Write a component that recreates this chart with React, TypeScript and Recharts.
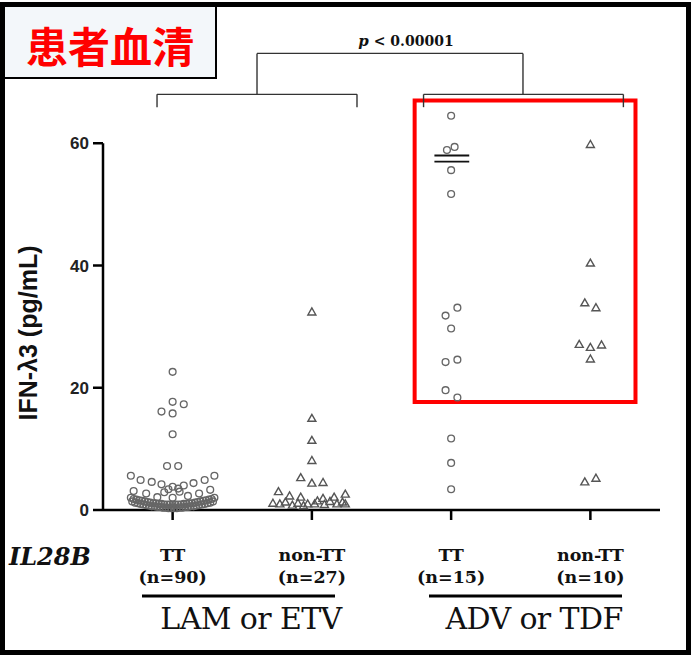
import React from 'react';
import { ScatterChart, Scatter, XAxis, YAxis, ReferenceLine, ReferenceArea } from 'recharts';

// IFN-λ3 serum levels (pg/mL) by group; jitter = horizontal spread in category units
const groups = [1, 2, 3, 4];
const tickTop = ['TT', 'non-TT', 'TT', 'non-TT'];
const tickBottom = ['(n=90)', '(n=27)', '(n=15)', '(n=10)'];
const yTicks = [0, 20, 40, 60];

const lamTTValues = [
  22.6, 17.7, 17.3, 16.1, 15.8, 12.4, 7.2, 7.2,
  5.6, 4.9, 4.6, 4.2, 3.4, 3.8, 3.5, 4.0, 4.4, 4.9, 5.6,
  2.9, 3.0,
  3.1, 2.7, 2.1, 2.0, 2.3, 2.7, 3.3,
  2.0, 1.8, 1.7, 1.6, 1.5, 1.4, 1.3, 1.2, 1.1, 1.1, 1.0, 1.0, 0.9, 0.9, 0.9, 0.9,
  0.9, 0.9, 0.9, 1.0, 1.0, 1.1, 1.1, 1.2, 1.3, 1.4, 1.5, 1.6, 1.7, 1.8, 2.0,
  1.4, 1.2, 1.1, 1.0, 0.9, 0.8, 0.7, 0.6, 0.6, 0.5, 0.5, 0.4, 0.4, 0.3, 0.3,
  0.3, 0.3, 0.4, 0.4, 0.5, 0.5, 0.6, 0.6, 0.7, 0.8, 0.9, 1.0, 1.1, 1.2, 1.4, 0.6,
];
const lamTTJitter = [
  0, 0, 0.08, -0.08, 0, 0, -0.04, 0.04,
  -0.3, -0.23, -0.15, -0.08, -0.03, 0, 0.04, 0.08, 0.15, 0.23, 0.3,
  -0.06, 0.05,
  -0.28, -0.19, -0.11, 0, 0.11, 0.19, 0.27,
  -0.3, -0.28, -0.26, -0.24, -0.22, -0.2, -0.18, -0.16, -0.14, -0.12, -0.1, -0.08, -0.06, -0.04, -0.02, 0,
  0.02, 0.04, 0.06, 0.08, 0.1, 0.12, 0.14, 0.16, 0.18, 0.2, 0.22, 0.24, 0.26, 0.28, 0.3,
  -0.29, -0.27, -0.25, -0.23, -0.21, -0.19, -0.17, -0.15, -0.13, -0.11, -0.09, -0.07, -0.05, -0.03, -0.01,
  0.01, 0.03, 0.05, 0.07, 0.09, 0.11, 0.13, 0.15, 0.17, 0.19, 0.21, 0.23, 0.25, 0.27, 0.29, 0,
];

const lamNonTTValues = [32.4, 15.0, 11.4, 8.1, 5.3, 4.4, 4.5, 3.0, 2.3, 2.1, 1.9, 2.1, 2.6, 1.1, 1.0, 1.3, 0.8, 1.1, 0.7, 1.0, 1.0, 1.5, 0.9, 1.4, 1.0, 1.3, 1.0];
const lamNonTTJitter = [0, 0, 0, 0, -0.08, 0, 0.08, -0.24, -0.16, -0.08, 0.08, 0.16, 0.24, -0.28, -0.23, -0.19, -0.14, -0.1, -0.06, -0.03, 0.02, 0.04, 0.09, 0.13, 0.18, 0.22, 0.24];

const advTTValues = [64.5, 58.9, 59.4, 55.6, 51.7, 33.1, 31.8, 29.7, 24.2, 24.6, 19.6, 18.4, 11.7, 7.7, 3.4];
const advTTJitter = [0, -0.03, 0.025, 0, 0, 0.045, -0.04, 0, -0.04, 0.045, -0.04, 0.045, 0, 0, 0];

const advNonTTValues = [59.8, 40.4, 33.9, 33.1, 27.1, 26.6, 27.0, 24.7, 4.6, 5.2];
const advNonTTJitter = [0, 0, -0.04, 0.04, -0.08, 0, 0.08, 0, -0.04, 0.04];

const toPoints = (group: number, values: number[], jitter: number[]) =>
  values.map((v, i) => ({ x: group + jitter[i], y: v }));

const serif = '"DejaVu Serif", serif';
const sans = '"Liberation Sans", Arial, sans-serif';

const Circle = (props: any) => (
  <circle cx={props.cx} cy={props.cy} r={3.4} fill="none" stroke="#666" strokeWidth={1.35} />
);

const Triangle = (props: any) => {
  const { cx, cy } = props;
  return (
    <polygon
      points={`${cx},${cy - 4} ${cx - 4},${cy + 3} ${cx + 4},${cy + 3}`}
      fill="none"
      stroke="#555"
      strokeWidth={1.4}
    />
  );
};

const GroupTick = (props: any) => {
  const { x, y, payload } = props;
  const i = groups.indexOf(payload.value);
  if (i < 0) return null;
  return (
    <g fontFamily={serif} fontWeight="bold" fontSize={17.5} fill="#111" textAnchor="middle">
      <text x={x} y={y + 39}>{tickTop[i]}</text>
      <text x={x} y={y + 61}>{tickBottom[i]}</text>
    </g>
  );
};

const bracket = { stroke: '#333', strokeWidth: 1.4, ifOverflow: 'visible' as const };

export default function App() {
  return (
    <div style={{ position: 'absolute', left: 0, top: 0, width: 692, height: 656, background: '#fff' }}>
      <ScatterChart width={692} height={656} margin={{ top: 21, right: 32, bottom: 66, left: 43 }}>
        <XAxis
          type="number"
          dataKey="x"
          domain={[0.5, 4.5]}
          ticks={groups}
          allowDataOverflow
          axisLine={{ stroke: '#000', strokeWidth: 2.5 }}
          tickLine={{ stroke: '#000', strokeWidth: 2.5 }}
          tickSize={10}
          height={80}
          tick={<GroupTick />}
        />
        <YAxis
          type="number"
          dataKey="y"
          domain={[0, 80]}
          ticks={yTicks}
          width={60}
          axisLine={false}
          tickLine={{ stroke: '#000', strokeWidth: 2.5 }}
          tickSize={10}
          tickMargin={4}
          tick={{ fontFamily: sans, fontWeight: 'bold', fontSize: 17, fill: '#222' }}
        />
        <ReferenceLine segment={[{ x: 0.5, y: 0 }, { x: 0.5, y: 60 }]} stroke="#000" strokeWidth={2.5} ifOverflow="visible" />

        {/* red highlight box */}
        <ReferenceArea x1={2.738} x2={4.324} y1={17.66} y2={67} fill="none" stroke="#ff0000" strokeWidth={4} ifOverflow="visible" />

        {/* significance brackets */}
        <ReferenceLine segment={[{ x: 1.606, y: 74.7 }, { x: 3.516, y: 74.7 }]} {...bracket} />
        <ReferenceLine segment={[{ x: 1.606, y: 74.7 }, { x: 1.606, y: 68 }]} {...bracket} />
        <ReferenceLine segment={[{ x: 3.516, y: 74.7 }, { x: 3.516, y: 68 }]} {...bracket} />
        <ReferenceLine segment={[{ x: 0.888, y: 68 }, { x: 2.324, y: 68 }]} {...bracket} />
        <ReferenceLine segment={[{ x: 0.888, y: 68 }, { x: 0.888, y: 65.9 }]} {...bracket} />
        <ReferenceLine segment={[{ x: 2.324, y: 68 }, { x: 2.324, y: 65.9 }]} {...bracket} />
        <ReferenceLine segment={[{ x: 2.802, y: 68 }, { x: 4.237, y: 68 }]} {...bracket} />
        <ReferenceLine segment={[{ x: 2.802, y: 68 }, { x: 2.802, y: 65.9 }]} {...bracket} />
        <ReferenceLine segment={[{ x: 4.237, y: 68 }, { x: 4.237, y: 65.9 }]} {...bracket} />

        {/* short horizontal bars in ADV TT group */}
        <ReferenceLine segment={[{ x: 2.88, y: 58 }, { x: 3.13, y: 58 }]} stroke="#111" strokeWidth={1.8} />
        <ReferenceLine segment={[{ x: 2.88, y: 57 }, { x: 3.13, y: 57 }]} stroke="#111" strokeWidth={1.8} />

        <Scatter data={toPoints(1, lamTTValues, lamTTJitter)} shape={<Circle />} isAnimationActive={false} />
        <Scatter data={toPoints(2, lamNonTTValues, lamNonTTJitter)} shape={<Triangle />} isAnimationActive={false} />
        <Scatter data={toPoints(3, advTTValues, advTTJitter)} shape={<Circle />} isAnimationActive={false} />
        <Scatter data={toPoints(4, advNonTTValues, advNonTTJitter)} shape={<Triangle />} isAnimationActive={false} />
      </ScatterChart>

      <svg width={692} height={656} style={{ position: 'absolute', left: 0, top: 0, pointerEvents: 'none' }}>
        <rect x={2.5} y={4.5} width={686} height={648} fill="none" stroke="#000" strokeWidth={5} />
        <rect x={4} y={6} width={212} height={72} fill="#f3f7fa" stroke="#000" strokeWidth={2} />
        <text x={110} y={44} textAnchor="middle" dominantBaseline="central" fontFamily='"Noto Sans CJK JP", sans-serif' fontWeight="bold" fontSize={42} fill="#ff0000">
          患者血清
        </text>
        <text x={406} y={46} textAnchor="middle" fontFamily={serif} fontSize={14} fontWeight="bold" fill="#111">
          <tspan fontStyle="italic" fontSize={15}>p</tspan> {'< 0.00001'}
        </text>
        <text transform="translate(37,333) rotate(-90)" textAnchor="middle" fontFamily={sans} fontWeight="bold" fontSize={25} fill="#111">
          IFN-λ3 (pg/mL)
        </text>
        <text x={9} y={565} fontFamily={serif} fontStyle="italic" fontWeight="bold" fontSize={24} fill="#111">
          IL28B
        </text>
        <line x1={142} x2={335} y1={596} y2={596} stroke="#000" strokeWidth={3} />
        <line x1={429} x2={622} y1={596} y2={596} stroke="#000" strokeWidth={3} />
        <text x={251} y={629} textAnchor="middle" fontFamily={serif} fontSize={30} fill="#111" letterSpacing={-0.6}>
          LAM or ETV
        </text>
        <text x={534} y={629} textAnchor="middle" fontFamily={serif} fontSize={30} fill="#111" letterSpacing={-0.6}>
          ADV or TDF
        </text>
      </svg>
    </div>
  );
}
